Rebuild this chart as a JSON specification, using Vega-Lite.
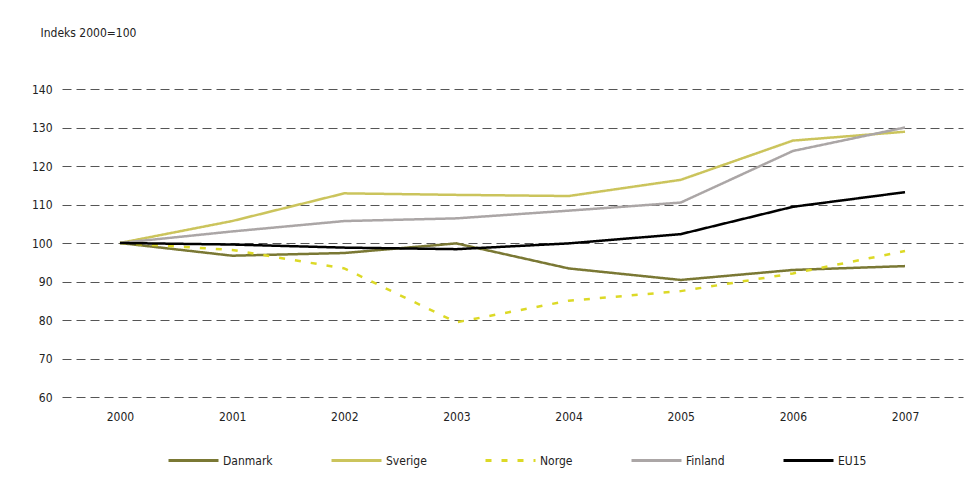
{
  "$schema": "https://vega.github.io/schema/vega-lite/v6.json",
  "autosize": "none",
  "width": 901,
  "height": 308,
  "padding": {"left": 62, "top": 89, "right": 12, "bottom": 88},
  "background": "white",
  "config": {
    "view": {"stroke": null},
    "font": "DejaVu Sans Condensed, Roboto, sans-serif",
    "axis": {"labelFont": "DejaVu Sans Condensed, Roboto, sans-serif", "labelFontSize": 12, "labelColor": "#222", "titleFont": "DejaVu Sans Condensed, Roboto, sans-serif"},
    "legend": {"labelFont": "DejaVu Sans Condensed, Roboto, sans-serif", "labelFontSize": 12, "labelColor": "#222"}
  },
  "data": {
    "values": [
      {"year": "2000", "country": "Danmark", "value": 100},
      {"year": "2001", "country": "Danmark", "value": 96.7},
      {"year": "2002", "country": "Danmark", "value": 97.4},
      {"year": "2003", "country": "Danmark", "value": 99.9},
      {"year": "2004", "country": "Danmark", "value": 93.4},
      {"year": "2005", "country": "Danmark", "value": 90.4},
      {"year": "2006", "country": "Danmark", "value": 93.0},
      {"year": "2007", "country": "Danmark", "value": 94.0},
      {"year": "2000", "country": "Sverige", "value": 100},
      {"year": "2001", "country": "Sverige", "value": 105.7},
      {"year": "2002", "country": "Sverige", "value": 112.9},
      {"year": "2003", "country": "Sverige", "value": 112.5},
      {"year": "2004", "country": "Sverige", "value": 112.2},
      {"year": "2005", "country": "Sverige", "value": 116.4},
      {"year": "2006", "country": "Sverige", "value": 126.6},
      {"year": "2007", "country": "Sverige", "value": 128.9},
      {"year": "2000", "country": "Norge", "value": 100},
      {"year": "2001", "country": "Norge", "value": 98.2},
      {"year": "2002", "country": "Norge", "value": 93.4},
      {"year": "2003", "country": "Norge", "value": 79.4},
      {"year": "2004", "country": "Norge", "value": 85.0},
      {"year": "2005", "country": "Norge", "value": 87.5},
      {"year": "2006", "country": "Norge", "value": 92.1},
      {"year": "2007", "country": "Norge", "value": 97.9},
      {"year": "2000", "country": "Finland", "value": 100},
      {"year": "2001", "country": "Finland", "value": 103.0},
      {"year": "2002", "country": "Finland", "value": 105.7},
      {"year": "2003", "country": "Finland", "value": 106.4},
      {"year": "2004", "country": "Finland", "value": 108.4},
      {"year": "2005", "country": "Finland", "value": 110.5},
      {"year": "2006", "country": "Finland", "value": 123.9},
      {"year": "2007", "country": "Finland", "value": 130.0},
      {"year": "2000", "country": "EU15", "value": 100},
      {"year": "2001", "country": "EU15", "value": 99.6},
      {"year": "2002", "country": "EU15", "value": 98.8},
      {"year": "2003", "country": "EU15", "value": 98.4},
      {"year": "2004", "country": "EU15", "value": 99.9},
      {"year": "2005", "country": "EU15", "value": 102.3},
      {"year": "2006", "country": "EU15", "value": 109.4},
      {"year": "2007", "country": "EU15", "value": 113.2}
    ]
  },
  "mark": {"type": "line", "strokeWidth": 2.5},
  "encoding": {
    "x": {
      "field": "year", "type": "ordinal",
      "scale": {"type": "point", "padding": 0.517},
      "axis": {"title": null, "labelAngle": 0, "domain": false, "ticks": false, "grid": false, "labelPadding": 14}
    },
    "y": {
      "field": "value", "type": "quantitative",
      "scale": {"domain": [60, 140], "nice": false, "zero": false},
      "axis": {
        "values": [60, 70, 80, 90, 100, 110, 120, 130, 140],
        "title": "Indeks 2000=100", "titleAngle": 0, "titleAlign": "left", "titleBaseline": "middle",
        "titleX": -22, "titleY": -57, "titleFontSize": 12, "titleFontWeight": "normal", "titleColor": "#222",
        "domain": false, "ticks": false, "labelPadding": 10,
        "grid": true, "gridDash": [9, 5], "gridColor": "#555", "gridWidth": 1
      }
    },
    "color": {
      "field": "country", "type": "nominal",
      "sort": ["Danmark", "Sverige", "Norge", "Finland", "EU15"],
      "scale": {"domain": ["Danmark", "Sverige", "Norge", "Finland", "EU15"], "range": ["#7a7834", "#cbc45c", "#dcd926", "#aba6a6", "#000000"]},
      "legend": {
        "title": null, "orient": "none", "direction": "horizontal", "legendX": 105, "legendY": 345,
        "symbolType": "stroke", "symbolSize": 2500, "symbolStrokeWidth": 3,
        "labelOffset": 3, "columnPadding": 52, "gridAlign": "none"
      }
    },
    "strokeDash": {
      "field": "country", "type": "nominal",
      "scale": {"domain": ["Danmark", "Sverige", "Norge", "Finland", "EU15"], "range": [[1, 0], [1, 0], [6, 10], [1, 0], [1, 0]]},
      "legend": null
    }
  }
}
